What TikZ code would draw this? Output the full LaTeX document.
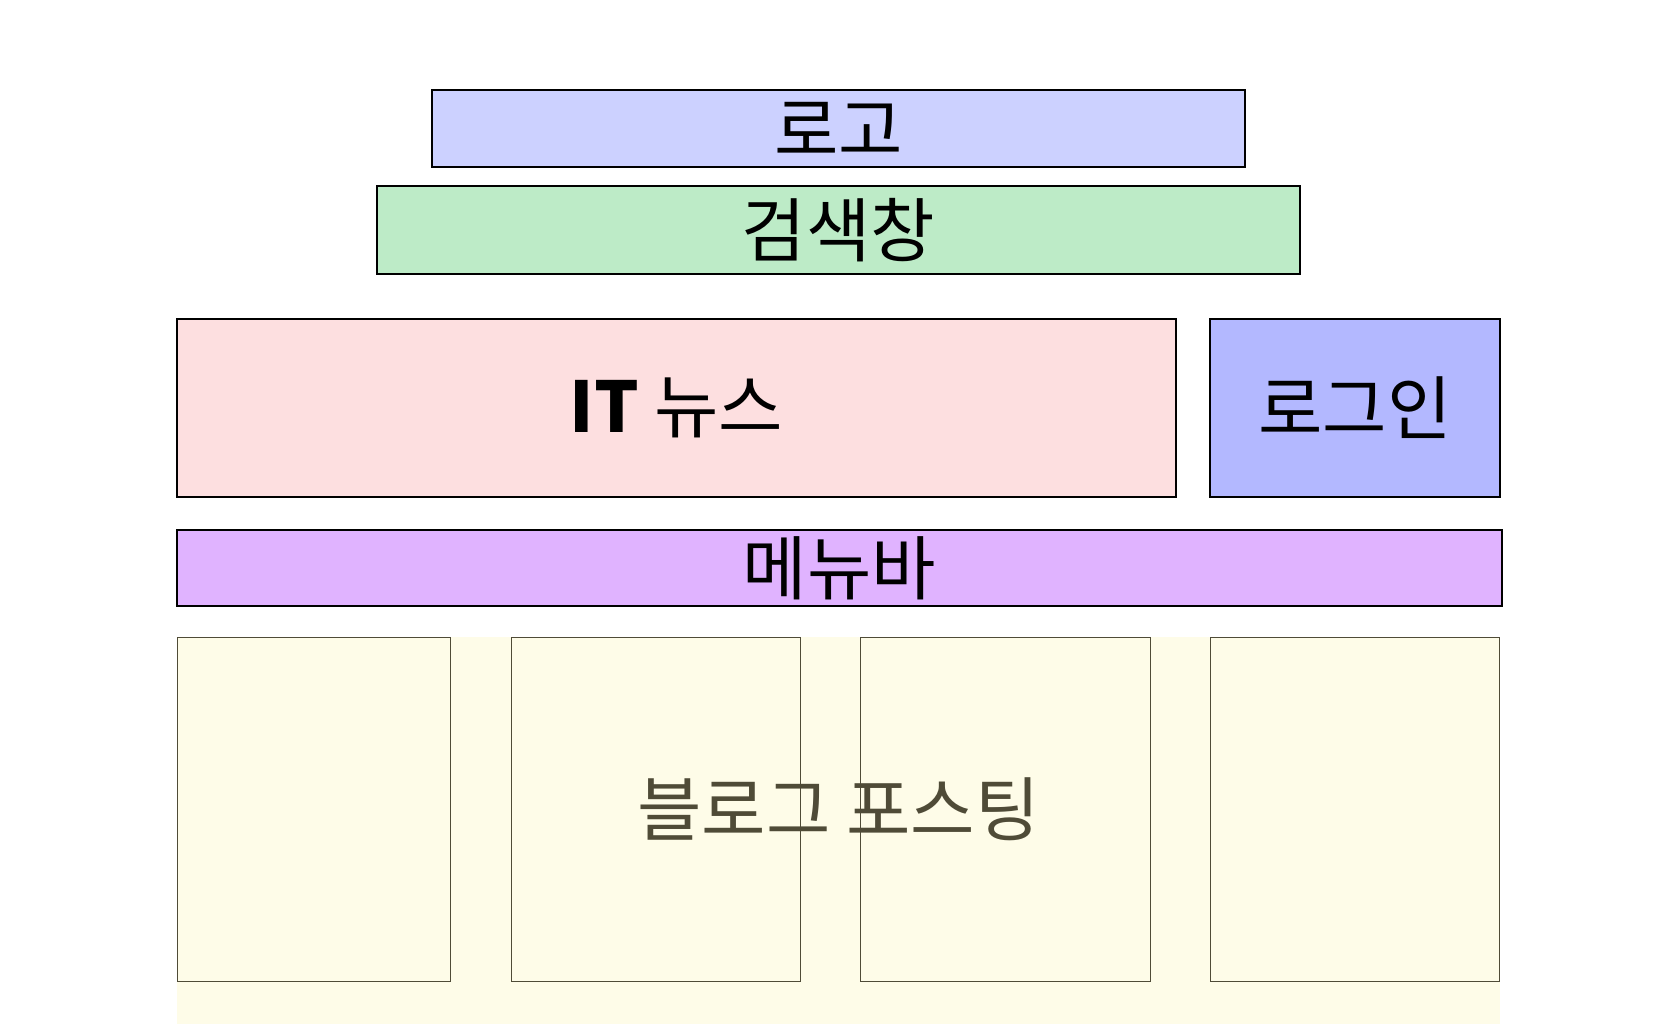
\documentclass[tikz,border=0pt]{standalone}
\usepackage{fontspec}
\setmainfont{Noto Sans CJK KR}
\usepackage{tikz}
\usetikzlibrary{positioning}
\definecolor{logoblue}{RGB}{204,209,255}
\definecolor{searchgreen}{RGB}{189,235,199}
\definecolor{newspink}{RGB}{253,223,224}
\definecolor{loginblue}{RGB}{179,184,255}
\definecolor{menupurple}{RGB}{224,179,255}
\definecolor{blogyellow}{RGB}{254,252,232}
\definecolor{blogdark}{RGB}{79,75,55}

\begin{document}
\begin{tikzpicture}[
  x=0.5pt, y=-0.5pt,
  block/.style={rectangle, draw=black, line width=0.6pt, inner sep=0pt,
                font=\fontsize{35}{40}\selectfont, align=center},
  logobox/.style={block, fill=logoblue},
  searchbox/.style={block, fill=searchgreen},
  newsbox/.style={block, fill=newspink},
  loginbox/.style={block, fill=loginblue},
  menubox/.style={block, fill=menupurple},
  postbox/.style={rectangle, draw=blogdark, line width=0.45pt, inner sep=0pt,
                  minimum width=144.5pt, minimum height=172pt},
  blogtext/.style={font=\fontsize{35}{40}\selectfont, text=blogdark}
]
\useasboundingbox (0,0) rectangle (1680,1024);

% header
\node[logobox, minimum width=406.5pt, minimum height=38.5pt] (logo) at (838.5,128.5) {로고};
\node[searchbox, minimum width=461.5pt, minimum height=44pt] (search) at (838.5,230) {검색창};

% news + login
\node[newsbox, minimum width=499.5pt, minimum height=89pt] (news) at (676.5,408) {\textbf{IT} 뉴스};
\node[loginbox, minimum width=145pt, minimum height=89pt] (login) at (1355,408) {로그인};

% menu bar
\node[menubox, minimum width=662.5pt, minimum height=38pt] (menu) at (839.5,568) {메뉴바};

% blog posts
\fill[blogyellow] (177,637) rectangle (1500,1024);
\node[blogtext] (blog) at (838.5,809) {블로그 포스팅};
\node[postbox, minimum width=136.5pt] (post1) at (313.5,809) {};
\node[postbox] (post2) at (655.5,809) {};
\node[postbox, minimum width=145pt] (post3) at (1005,809) {};
\node[postbox] (post4) at (1354.5,809) {};

\end{tikzpicture}
\end{document}
